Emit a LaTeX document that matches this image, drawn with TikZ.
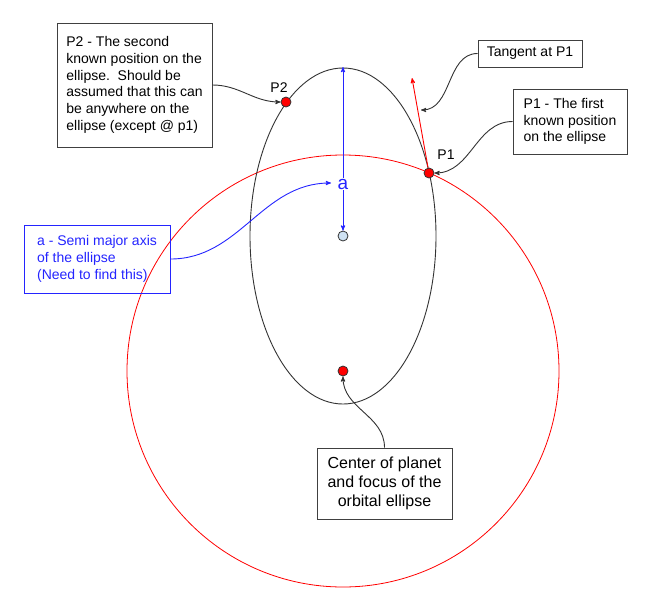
\documentclass[tikz,border=0pt]{standalone}
\usepackage{fontspec}
\setmainfont{Liberation Sans}
\usepackage[]{xcolor}
\usetikzlibrary{arrows}
\definecolor{dotblue}{HTML}{CFE2F3}
\definecolor{lineblue}{HTML}{2424FF}
\tikzset{
		note/.style={draw=black!75, rectangle, align=left, inner sep=0pt, line width=0.9pt, font=\fontsize{14}{16.7}\selectfont},
		blue note/.style={note, draw=lineblue, text=lineblue},
		centre note/.style={note, align=center, font=\fontsize{16}{18.8}\selectfont},
		body dot/.style={circle, draw=black!80, fill=red, inner sep=0pt, minimum size=10pt, line width=0.8pt},
		centre dot/.style={body dot, fill=dotblue},
		point label/.style={font=\fontsize{14}{16}\selectfont},
		callout/.style={->, black!80, line width=0.9pt}
	}

\begin{document}
\begin{tikzpicture}[>=stealth', x=1pt, y=-1pt]
				\useasboundingbox (0,0) rectangle (666,600);
				% orbit and planet
				\draw[red, line width=0.8pt]     (343,371) circle [radius=216pt];
				\draw[black!80, line width=0.9pt] (343,236) ellipse [x radius=93pt, y radius=168pt];
				
				\coordinate (apex)     at (343,67);
				\coordinate (tan end)  at (412,78);
				\coordinate (tan mid)  at (421,110);
				\coordinate (a target) at (331,183);
				
				\node[body dot]   (focus)  at (343,371) {};
				\node[centre dot] (centre) at (343,236) {};
				\node[body dot]   (p1)     at (429,173) {};
				\node[body dot]   (p2)     at (286,102) {};
				\node[point label] (p1 label) at (446,155) {P1};
				\node[point label] (p2 label) at (279,88)  {P2};
				
				\draw[<->, lineblue, line width=0.9pt] (apex) -- (centre);
				\node[fill=lineblue!0, text=lineblue, inner sep=1pt, font=\fontsize{19}{19}\selectfont] (a label) at (343,184) {a};
				\draw[->, red, line width=0.9pt] (p1) -- (tan end);
				
				% notes
				\node[note, minimum width=155pt, minimum height=124pt]       (p2 box)      at (134.5,85)  {P2 - The second\\known position on the\\ellipse.\ \ Should be\\assumed that this can\\be anywhere on the\\ellipse (except @ p1)};
				\node[blue note, minimum width=146pt, minimum height=68pt]   (a box)       at (97,259)    {a - Semi major axis\\of the ellipse\\(Need to find this)};
				\node[note, minimum width=104pt, minimum height=27pt]        (tangent box) at (530,53.5)  {Tangent at P1};
				\node[note, minimum width=114pt, minimum height=65pt]        (p1 box)      at (570,121.5) {P1 - The first\\known position\\on the ellipse};
				\node[centre note, minimum width=135pt, minimum height=71pt] (focus box)   at (384.5,483.5) {Center of planet\\and focus of the\\orbital ellipse};
				
				\path[callout] (p2 box.east)      edge [out=0, in=180]   (p2);
				\path[callout] (tangent box.west) edge [out=180, in=0]   (tan mid);
				\path[callout] (p1 box.west)      edge [out=180, in=0]   (p1);
				\path[callout] (focus box.north)  edge [out=90, in=-90]  (focus);
				\path[->, lineblue, line width=0.9pt] (a box.east) edge [out=0, in=180] (a target);
			\end{tikzpicture}
\end{document}
